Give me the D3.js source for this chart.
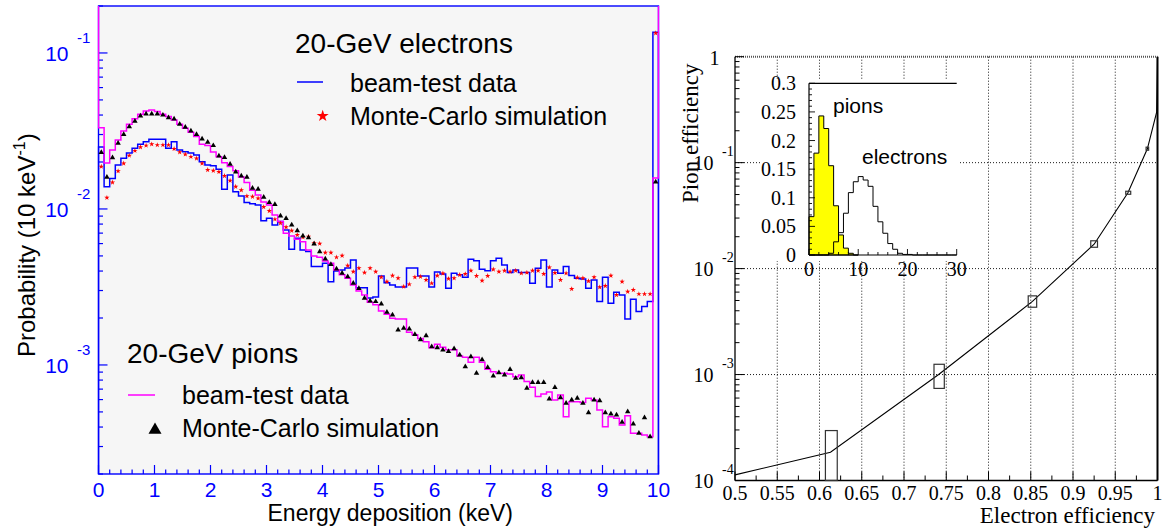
<!DOCTYPE html>
<html><head><meta charset="utf-8">
<script src="https://cdn.jsdelivr.net/npm/d3@7/dist/d3.min.js"></script>
<style>html,body{margin:0;padding:0;background:#fff;}svg{display:block;}</style>
</head><body>
<svg id="chart" width="1164" height="529"></svg>
<script>
// ================= DATA =================
// Left panel: 100 bins of 0.1 keV from 0 to 10 keV
const binWidth = 0.1;
const binLow = d3.range(100).map(i => i / 10);

// 20-GeV electrons, beam-test data (blue histogram)
const electronData = [0.0250,0.0139,0.0157,0.0191,0.0211,0.0228,0.0245,0.0260,0.0270,0.0280,
0.0280,0.0280,0.0245,0.0270,0.0239,0.0233,0.0228,0.0222,0.0201,0.0191,
0.0189,0.0180,0.0134,0.0165,0.0129,0.0121,0.0110,0.0108,0.0106,0.00841,
0.00871,0.00789,0.00830,0.00733,0.00552,0.00649,0.00546,0.00533,0.00427,0.00427,
0.00449,0.00342,0.00400,0.00406,0.00419,0.00471,0.00312,0.00312,0.00269,0.00273,
0.00372,0.00336,0.00326,0.00316,0.00316,0.00419,0.00419,0.00372,0.00372,0.00316,
0.00395,0.00383,0.00310,0.00387,0.00378,0.00365,0.00476,0.00466,0.00410,0.00402,
0.00466,0.00483,0.00438,0.00391,0.00406,0.00391,0.00391,0.00334,0.00417,0.00471,
0.00316,0.00406,0.00387,0.00427,0.00374,0.00360,0.00356,0.00310,0.00351,0.00255,
0.00365,0.00249,0.00292,0.00281,0.00197,0.00264,0.00220,0.00237,0.00255,0.136];

// 20-GeV electrons, Monte-Carlo (red stars)
const electronMC = [0.0187,0.0118,0.0148,0.0175,0.0196,0.0220,0.0236,0.0249,0.0255,0.0260,
0.0257,0.0257,0.0257,0.0243,0.0231,0.0224,0.0216,0.0211,0.0196,0.0178,
0.0176,0.0173,0.0163,0.0152,0.0139,0.0132,0.0121,0.0120,0.0117,0.0103,
0.00971,0.00859,0.00810,0.00764,0.00726,0.00681,0.00659,0.00665,0.00603,0.00600,
0.00525,0.00525,0.00490,0.00502,0.00433,0.00396,0.00417,0.00391,0.00417,0.00396,
0.00365,0.00342,0.00374,0.00360,0.00318,0.00329,0.00365,0.00368,0.00351,0.00334,
0.00374,0.00386,0.00357,0.00360,0.00378,0.00383,0.00402,0.00372,0.00347,0.00372,
0.00410,0.00396,0.00402,0.00396,0.00402,0.00387,0.00391,0.00402,0.00402,0.00383,
0.00422,0.00389,0.00351,0.00387,0.00307,0.00363,0.00360,0.00345,0.00365,0.00315,
0.00321,0.00374,0.00281,0.00342,0.00295,0.00303,0.00285,0.00285,0.00285,0.134];

// 20-GeV pions, beam-test data (magenta histogram)
const pionData = [0.0332,0.0197,0.0239,0.0277,0.0316,0.0349,0.0378,0.0405,0.0425,0.0431,
0.0421,0.0405,0.0391,0.0372,0.0349,0.0329,0.0310,0.0291,0.0260,0.0255,
0.0232,0.0216,0.0198,0.0187,0.0176,0.0160,0.0148,0.0132,0.0123,0.0111,
0.0106,0.00916,0.00830,0.00698,0.00671,0.00640,0.00617,0.00546,0.00500,0.00490,
0.00464,0.00449,0.00406,0.00378,0.00360,0.00326,0.00298,0.00281,0.00252,0.00243,
0.00222,0.00211,0.00199,0.00197,0.00197,0.00162,0.00156,0.00148,0.00141,0.00129,
0.00136,0.00130,0.00125,0.00125,0.00114,0.00112,0.00104,0.00112,0.00104,0.000938,
0.000906,0.000885,0.000885,0.000875,0.000841,0.000863,0.000782,0.000719,0.000627,0.000652,
0.000671,0.000597,0.000643,0.000466,0.000582,0.000582,0.000575,0.000612,0.000597,0.000515,
0.000402,0.000466,0.000455,0.000412,0.000473,0.000365,0.000365,0.000356,0.000347,0.0158];

// 20-GeV pions, Monte-Carlo (black triangles)
const pionMC = [0.0230,0.0160,0.0213,0.0264,0.0301,0.0337,0.0366,0.0395,0.0406,0.0406,
0.0406,0.0400,0.0385,0.0378,0.0349,0.0334,0.0316,0.0301,0.0281,0.0268,
0.0255,0.0219,0.0214,0.0194,0.0173,0.0163,0.0160,0.0136,0.0134,0.0119,
0.0110,0.0107,0.00902,0.00871,0.00789,0.00726,0.00671,0.00655,0.00597,0.00533,
0.00478,0.00441,0.00412,0.00387,0.00368,0.00334,0.00310,0.00268,0.00257,0.00255,
0.00246,0.00218,0.00209,0.00168,0.00172,0.00170,0.00157,0.00145,0.00154,0.00131,
0.00129,0.00125,0.00122,0.00127,0.00116,0.000975,0.00113,0.000885,0.00108,0.000966,
0.000850,0.000893,0.000863,0.000938,0.000822,0.000830,0.000709,0.000774,0.000774,0.000774,
0.000605,0.000717,0.000617,0.000568,0.000597,0.000612,0.000568,0.000494,0.000597,0.000590,
0.000494,0.000485,0.000478,0.000430,0.000502,0.000419,0.000365,0.000459,0.000347,0.0149];

const leftXTicks = [0,1,2,3,4,5,6,7,8,9,10];
const leftYTickExps = [-1,-2,-3];

// Right panel: pion efficiency vs electron efficiency
const effElectron = [0.5, 0.613, 0.741, 0.852, 0.925, 0.965, 0.988, 0.999, 1.0];
const effPion     = [1.13e-4, 1.85e-4, 1.0e-3, 4.9e-3, 0.017, 0.052, 0.135, 0.30, 1.0];
// error boxes
const boxElo  = [0.607, 0.7355, 0.847, 0.921, 0.9624, 0.9865];
const boxEhi  = [0.621, 0.7477, 0.857, 0.929, 0.9683, 0.9895];
const boxPiLo = [1e-4, 7.4e-4, 4.32e-3, 0.0159, 0.0503, 0.131];
const boxPiHi = [2.96e-4, 1.25e-3, 5.53e-3, 0.0183, 0.0537, 0.140];

const rightXTicks = [0.5,0.55,0.6,0.65,0.7,0.75,0.8,0.85,0.9,0.95,1];
const rightYTickExps = [-4,-3,-2,-1,0];

// Inset: signal distributions (bins of 1 unit, 0..30)
const insetPions = [0.067,0.178,0.243,0.221,0.156,0.086,0.035,0.012,0.003,0];
const insetElectrons = [0,0,0,0,0.003,0.023,0.039,0.073,0.109,0.128,
0.137,0.131,0.120,0.085,0.058,0.038,0.020,0.010,0.003,0.001,
0.001,0,0,0,0,0,0,0,0,0];
const insetXTicks = [0,10,20,30];
const insetYTicks = [0,0.05,0.1,0.15,0.2,0.25,0.3];

// ================= DRAW =================
const svg = d3.select('#chart');
const SANS = "'Liberation Sans', Arial, Helvetica, sans-serif";
const SERIF = "'Liberation Serif', 'Times New Roman', Times, serif";
const BLUE = '#0000ff', MAG = '#ff00ff';

// ---------- LEFT PANEL ----------
const xL = d3.scaleLinear().domain([0,10]).range([98.5,658.5]);
const yL = d3.scaleLog().domain([2e-4,0.2]).range([474,6]);
const gL = svg.append('g');
const [lx0,lx1] = xL.range(), ly0 = yL(0.2), ly1 = yL(2e-4);

gL.append('rect').attr('x',lx0).attr('y',ly0).attr('width',lx1-lx0).attr('height',ly1-ly0)
  .attr('fill','#f6f6f6');
gL.append('rect').attr('x',lx0).attr('y',ly0).attr('width',lx1-lx0).attr('height',ly1-ly0)
  .attr('fill','none').attr('stroke',BLUE).attr('stroke-width',1.4);

svg.append('defs').append('clipPath').attr('id','clipL').append('rect')
  .attr('x',lx0-1).attr('y',ly0-1).attr('width',lx1-lx0+2).attr('height',ly1-ly0+2);

// ticks
yL.ticks().forEach(t => {
  const lg = Math.log10(t), major = Math.abs(lg - Math.round(lg)) < 1e-6;
  gL.append('line').attr('x1',lx0).attr('x2',lx0+(major?9:4.5))
    .attr('y1',yL(t)).attr('y2',yL(t)).attr('stroke',BLUE).attr('stroke-width',1.2);
});
xL.ticks(50).forEach(t => {
  const major = Math.abs(t - Math.round(t)) < 1e-6;
  gL.append('line').attr('x1',xL(t)).attr('x2',xL(t))
    .attr('y1',ly1).attr('y2',ly1-(major?9:4.5)).attr('stroke',BLUE).attr('stroke-width',1.2);
});
// tick labels
leftXTicks.forEach(t => {
  gL.append('text').attr('x',xL(t)).attr('y',497).attr('text-anchor','middle')
    .attr('font-family',SANS).attr('font-size',21).attr('fill',BLUE).text(t);
});
leftYTickExps.forEach(e => {
  const yy = yL(Math.pow(10,e));
  gL.append('text').attr('x',68.5).attr('y',yy+8).attr('text-anchor','end')
    .attr('font-family',SANS).attr('font-size',21).attr('fill',BLUE).text('10');
  gL.append('text').attr('x',77).attr('y',yy-9.5).attr('text-anchor','start')
    .attr('font-family',SANS).attr('font-size',15).attr('fill',BLUE).text(String(e));
});
// axis titles
gL.append('text').attr('x',513).attr('y',521).attr('text-anchor','end')
  .attr('font-family',SANS).attr('font-size',23).attr('fill','#000')
  .text('Energy deposition (keV)');
const yt = gL.append('text').attr('transform','translate(35,357) rotate(-90)')
  .attr('font-family',SANS).attr('font-size',24).attr('fill','#000');
yt.append('tspan').text('Probability (10 keV');
yt.append('tspan').attr('font-size',16).attr('dy',-10).text('-1');
yt.append('tspan').attr('dy',10).text(')');

// histograms
function histPts(vals, startV, endV){
  const pts = [[0,startV]];
  vals.forEach((v,i) => { pts.push([binLow[i],v],[binLow[i]+binWidth,v]); });
  pts.push([10,endV]);
  return pts;
}
const lineL = d3.line().x(d => xL(d[0])).y(d => yL(d[1]));
const gH = gL.append('g').attr('clip-path','url(#clipL)');
gH.append('path').attr('d',lineL(histPts(electronData,2e-4,2e-4)))
  .attr('fill','none').attr('stroke',BLUE).attr('stroke-width',1.5);
gH.append('path').attr('d',lineL(histPts(pionData,0.2,0.2)))
  .attr('fill','none').attr('stroke',MAG).attr('stroke-width',1.5);
const star = d3.symbol().type(d3.symbolStar).size(9);
const tri = d3.symbol().type(d3.symbolTriangle).size(13);
electronMC.forEach((v,i) => {
  gH.append('path').attr('d',star())
    .attr('transform',`translate(${xL(binLow[i]+binWidth/2)},${yL(v)})`).attr('fill','#ff0000');
});
pionMC.forEach((v,i) => {
  gH.append('path').attr('d',tri())
    .attr('transform',`translate(${xL(binLow[i]+binWidth/2)},${yL(v)})`).attr('fill','#000');
});

// legends
function txt(g,x,y,s,size,fam,anchor){
  return g.append('text').attr('x',x).attr('y',y).attr('font-family',fam||SANS)
    .attr('font-size',size).attr('text-anchor',anchor||'start').attr('fill','#000').text(s);
}
txt(gL,295,52.5,'20-GeV electrons',28);
gL.append('line').attr('x1',297).attr('x2',323).attr('y1',82).attr('y2',82).attr('stroke',BLUE).attr('stroke-width',1.5);
txt(gL,350,91.5,'beam-test data',25);
gL.append('path').attr('d',d3.symbol().type(d3.symbolStar).size(45)()).attr('transform','translate(322.7,116)').attr('fill','#ff0000');
txt(gL,350,125,'Monte-Carlo simulation',25);

txt(gL,127,363,'20-GeV pions',28);
gL.append('line').attr('x1',128).attr('x2',155).attr('y1',395).attr('y2',395).attr('stroke',MAG).attr('stroke-width',1.5);
txt(gL,182,404,'beam-test data',25);
gL.append('path').attr('d',d3.symbol().type(d3.symbolTriangle).size(73)()).attr('transform','translate(155,430)').attr('fill','#000');
txt(gL,182,437,'Monte-Carlo simulation',25);

// ---------- RIGHT PANEL ----------
const xR = d3.scaleLinear().domain([0.5,1]).range([735,1157.5]);
const yR = d3.scaleLog().domain([1e-4,1]).range([480.5,56.7]);
const gR = svg.append('g');
const [rx0,rx1] = xR.range(), ry0 = yR(1), ry1 = yR(1e-4);

// grid
rightXTicks.slice(1,-1).forEach(t => {
  gR.append('line').attr('x1',xR(t)).attr('x2',xR(t)).attr('y1',ry0).attr('y2',ry1)
    .attr('stroke','#000').attr('stroke-width',0.9).attr('stroke-dasharray','1,2');
});
rightYTickExps.slice(1,-1).forEach(e => {
  const yy = yR(Math.pow(10,e));
  gR.append('line').attr('x1',rx0).attr('x2',rx1).attr('y1',yy).attr('y2',yy)
    .attr('stroke','#000').attr('stroke-width',0.9).attr('stroke-dasharray','1,2');
});
// top dotted border & right border
gR.append('line').attr('x1',rx0).attr('x2',rx1).attr('y1',ry0).attr('y2',ry0)
  .attr('stroke','#555').attr('stroke-width',2).attr('stroke-dasharray','1,1');
gR.append('line').attr('x1',rx1).attr('x2',rx1).attr('y1',ry0).attr('y2',ry1)
  .attr('stroke','#000').attr('stroke-width',2);

// inset white pad (hides the grid)
gR.append('rect').attr('x',760).attr('y',80).attr('width',198).attr('height',181).attr('fill','#fff');

// axes
gR.append('line').attr('x1',rx0).attr('x2',rx0).attr('y1',ry0).attr('y2',ry1).attr('stroke','#000').attr('stroke-width',1.3);
gR.append('line').attr('x1',rx0).attr('x2',rx1).attr('y1',ry1).attr('y2',ry1).attr('stroke','#000').attr('stroke-width',1.3);
yR.ticks().forEach(t => {
  const lg = Math.log10(t), major = Math.abs(lg - Math.round(lg)) < 1e-6;
  gR.append('line').attr('x1',rx0).attr('x2',rx0+(major?9:4.5)).attr('y1',yR(t)).attr('y2',yR(t))
    .attr('stroke','#000').attr('stroke-width',1);
});
d3.range(0,21).forEach(k => {
  const t = 0.5 + k*0.025, major = k % 2 === 0;
  gR.append('line').attr('x1',xR(t)).attr('x2',xR(t)).attr('y1',ry1).attr('y2',ry1-(major?9:5))
    .attr('stroke','#000').attr('stroke-width',1);
});
rightXTicks.forEach(t => {
  txt(gR,xR(t),500,String(+t.toFixed(2)),20,SERIF,'middle');
});
rightYTickExps.forEach(e => {
  const yy = yR(Math.pow(10,e));
  if (e === 0) { txt(gR,719.5,yy+8.5,'1',20,SERIF,'end'); return; }
  txt(gR,713.5,yy+7.5,'10',20,SERIF,'end');
  txt(gR,722,yy-7,String(e),14,SERIF,'start');
});
txt(gR,1155,523,'Electron efficiency',23,SERIF,'end');
gR.append('text').attr('transform','translate(698,203) rotate(-90)')
  .attr('font-family',SERIF).attr('font-size',23).attr('fill','#000').text('Pion efficiency');

// curve
const curvePts = effElectron.map((e,i) => [e, effPion[i]]);
gR.append('path').attr('d',d3.line().x(d => xR(d[0])).y(d => yR(d[1]))(curvePts))
  .attr('fill','none').attr('stroke','#000').attr('stroke-width',1.1);
boxElo.forEach((lo,i) => {
  gR.append('rect').attr('x',xR(lo)).attr('y',yR(boxPiHi[i]))
    .attr('width',xR(boxEhi[i])-xR(lo)).attr('height',yR(boxPiLo[i])-yR(boxPiHi[i]))
    .attr('fill','none').attr('stroke','#333').attr('stroke-width',1.2);
});

// inset
const xI = d3.scaleLinear().domain([0,30]).range([809,956.7]);
const yI = d3.scaleLinear().domain([0,0.3]).range([255,83.3]);
const gI = gR.append('g');
function stepArea(vals){
  const pts = [[0,0]];
  vals.forEach((v,i) => { pts.push([i,v],[i+1,v]); });
  pts.push([vals.length,0]);
  return pts;
}
const lineI = d3.line().x(d => xI(d[0])).y(d => yI(d[1]));
gI.append('path').attr('d',lineI(stepArea(insetPions))+'Z')
  .attr('fill','#ffff00').attr('stroke','#000').attr('stroke-width',1);
gI.append('path').attr('d',lineI(stepArea(insetElectrons)))
  .attr('fill','none').attr('stroke','#000').attr('stroke-width',1);
gI.append('line').attr('x1',xI(0)).attr('x2',xI(0)).attr('y1',yI(0)).attr('y2',yI(0.3)).attr('stroke','#000').attr('stroke-width',1.2);
gI.append('line').attr('x1',xI(0)).attr('x2',xI(30)).attr('y1',yI(0)).attr('y2',yI(0)).attr('stroke','#000').attr('stroke-width',1.2);
gI.append('line').attr('x1',xI(0)).attr('x2',xI(30)).attr('y1',yI(0.3)).attr('y2',yI(0.3)).attr('stroke','#000').attr('stroke-width',1.2);
d3.range(0,31).forEach(k => {
  const t = k*0.01, major = k % 5 === 0;
  gI.append('line').attr('x1',xI(0)).attr('x2',xI(0)+(major?6:3)).attr('y1',yI(t)).attr('y2',yI(t))
    .attr('stroke','#000').attr('stroke-width',0.9);
});
d3.range(0,16).forEach(k => {
  const t = k*2, major = t % 10 === 0;
  gI.append('line').attr('x1',xI(t)).attr('x2',xI(t)).attr('y1',yI(0)).attr('y2',yI(0)-(major?6:3))
    .attr('stroke','#000').attr('stroke-width',0.9);
});
insetYTicks.forEach(t => { txt(gI,796,yI(t)+7,String(t),20,SERIF,'end'); });
insetXTicks.forEach(t => { txt(gI,xI(t),276,String(t),20,SERIF,'middle'); });
txt(gI,833,112.5,'pions',21);
txt(gI,862,164,'electrons',21);
</script>
</body></html>
